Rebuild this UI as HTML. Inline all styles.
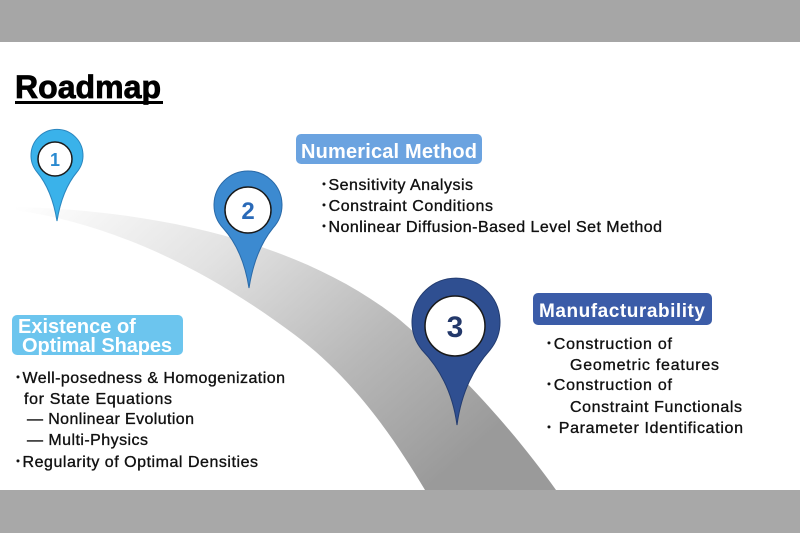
<!DOCTYPE html>
<html><head><meta charset="utf-8"><style>
body{margin:0;width:800px;height:533px;overflow:hidden;background:#fff}
svg text{font-family:"Liberation Sans",sans-serif}
</style></head><body>
<svg width="800" height="533" viewBox="0 0 800 533" xmlns="http://www.w3.org/2000/svg">
<defs>
<linearGradient id="band" x1="0" y1="0" x2="1" y2="0.6">
<stop offset="0" stop-color="#ffffff"/>
<stop offset="0.35" stop-color="#e2e2e2"/>
<stop offset="0.7" stop-color="#b8b8b8"/>
<stop offset="1" stop-color="#9a9a9a"/>
</linearGradient>
</defs>
<rect x="0" y="0" width="800" height="42" fill="#a6a6a6"/>
<rect x="0" y="490" width="800" height="43" fill="#a8a8a8"/>
<path d="M15 207 C150 210 300 240 400 320 C470 380 520 440 556 490 L425 490 C395 440 355 380 295 335 C215 275 120 225 15 210 Z" fill="url(#band)"/>
<text x="15" y="98" font-size="32" font-weight="900" fill="#000" stroke="#000" stroke-width="0.8" textLength="146">Roadmap</text>
<rect x="15" y="101" width="148" height="3" fill="#000"/>
<path d="M37 172 A26 26 0 1 1 77 172 Q62 190 57 221 Q52 190 37 172 Z" fill="#3ab2ea" stroke="#2a86bf" stroke-width="1"/>
<circle cx="55" cy="159" r="17" fill="#fff" stroke="#1a1a1a" stroke-width="1.5"/>
<text x="55" y="166" font-size="18" font-weight="bold" fill="#2a8ad0" text-anchor="middle">1</text>
<path d="M223 228 A34 34 0 1 1 273 228 Q255 250 249 288 Q243 250 223 228 Z" fill="#3c8ad0" stroke="#2a6aa8" stroke-width="1"/>
<circle cx="248" cy="210" r="23" fill="#fff" stroke="#1a1a1a" stroke-width="1.5"/>
<text x="248" y="219" font-size="24" font-weight="bold" fill="#2a6ab8" text-anchor="middle">2</text>
<path d="M422 350 A44 44 0 1 1 490 350 Q463 380 457 425 Q451 380 422 350 Z" fill="#2f4f91" stroke="#233c70" stroke-width="1"/>
<circle cx="455" cy="326" r="30" fill="#fff" stroke="#1a1a1a" stroke-width="1.5"/>
<text x="455" y="337" font-size="30" font-weight="bold" fill="#23386a" text-anchor="middle">3</text>
<rect x="296" y="134" width="186" height="30" rx="5" fill="#6ba3e0"/>
<text x="389" y="158" font-size="20" font-weight="bold" fill="#fff" text-anchor="middle" textLength="176">Numerical Method</text>
<rect x="533" y="293" width="179" height="32" rx="5" fill="#3b5ca8"/>
<text x="622" y="317" font-size="19" font-weight="bold" fill="#fff" text-anchor="middle" textLength="166">Manufacturability</text>
<rect x="12" y="315" width="171" height="40" rx="5" fill="#6cc5ee"/>
<text x="18" y="333" font-size="20" font-weight="bold" fill="#fff">Existence of</text>
<text x="22" y="352" font-size="20" font-weight="bold" fill="#fff" textLength="150">Optimal Shapes</text>
<g font-size="16" fill="#111" stroke="#111" stroke-width="0.35">
<text x="320" y="190" textLength="153">･Sensitivity Analysis</text>
<text x="320" y="211" textLength="173">･Constraint Conditions</text>
<text x="320" y="232" textLength="342">･Nonlinear Diffusion-Based Level Set Method</text>
<text x="545" y="349" textLength="127">･Construction of</text>
<text x="570" y="370" textLength="149">Geometric features</text>
<text x="545" y="390" textLength="127">･Construction of</text>
<text x="570" y="412" textLength="172">Constraint Functionals</text>
<text x="545" y="433" textLength="198">･ Parameter Identification</text>
<text x="14" y="383" textLength="271">･Well-posedness &amp; Homogenization</text>
<text x="24" y="404" textLength="148">for State Equations</text>
<text x="27" y="424" textLength="167">— Nonlinear Evolution</text>
<text x="27" y="445" textLength="121">— Multi-Physics</text>
<text x="14" y="467" textLength="244">･Regularity of Optimal Densities</text>
</g>
</svg>
</body></html>
